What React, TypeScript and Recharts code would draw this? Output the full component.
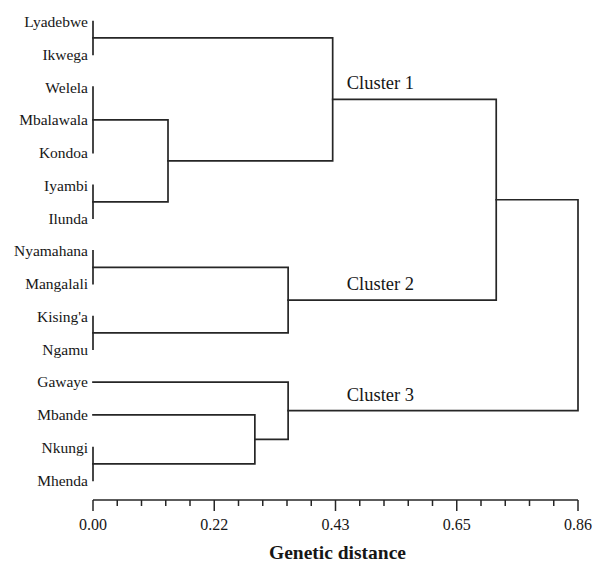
import React from 'react';
import { ComposedChart, Line, XAxis, YAxis, Scatter, Label } from 'recharts';

// ---- data ----
const leaves = [
  'Lyadebwe', 'Ikwega', 'Welela', 'Mbalawala', 'Kondoa', 'Iyambi', 'Ilunda',
  'Nyamahana', 'Mangalali', "Kising'a", 'Ngamu', 'Gawaye', 'Mbande', 'Nkungi', 'Mhenda',
];

const mergeIds = ['A', 'B', 'C', 'D', 'E', 'F', 'G', 'H', 'I', 'J', 'K', 'L', 'M'];
const mergeChildren = [
  ['Lyadebwe', 'Ikwega'],
  ['Welela', 'Mbalawala', 'Kondoa'],
  ['Iyambi', 'Ilunda'],
  ['B', 'C'],
  ['A', 'D'],
  ['Nyamahana', 'Mangalali'],
  ["Kising'a", 'Ngamu'],
  ['F', 'G'],
  ['E', 'H'],
  ['Nkungi', 'Mhenda'],
  ['Mbande', 'J'],
  ['Gawaye', 'K'],
  ['I', 'L'],
];
const mergeHeights = [0, 0, 0, 0.133, 0.425, 0, 0, 0.346, 0.715, 0, 0.287, 0.346, 0.86];

const clusterNames = ['Cluster 1', 'Cluster 2', 'Cluster 3'];
const clusterNodes = ['E', 'H', 'L'];
const clusterLabelX = 0.45;

const axisMinorTicks = [
  0, 0.043, 0.086, 0.129, 0.172, 0.215, 0.258, 0.301, 0.344, 0.387, 0.43,
  0.473, 0.516, 0.559, 0.602, 0.645, 0.688, 0.731, 0.774, 0.817, 0.86,
];
const axisMajorTicks = [0, 0.215, 0.43, 0.645, 0.86];
const axisMajorLabels = ['0.00', '0.22', '0.43', '0.65', '0.86'];
const axisTitle = 'Genetic distance';

// ---- tree layout from data ----
type P = { x: number; y: number };
const pos: Record<string, P> = {};
leaves.forEach((l, i) => {
  pos[l] = { x: 0, y: i };
});
const polylines: P[][] = [];
mergeIds.forEach((id, k) => {
  const H = mergeHeights[k];
  const ch = mergeChildren[k].map((c) => pos[c]);
  const ys = ch.map((c) => c.y);
  const minY = Math.min(...ys);
  const maxY = Math.max(...ys);
  pos[id] = { x: H, y: (minY + maxY) / 2 };
  const first = ch[0];
  const last = ch[ch.length - 1];
  polylines.push([
    { x: first.x, y: first.y },
    { x: H, y: first.y },
    { x: H, y: last.y },
    { x: last.x, y: last.y },
  ]);
  ch.slice(1, -1).forEach((c) => {
    if (c.x < H) polylines.push([{ x: c.x, y: c.y }, { x: H, y: c.y }]);
  });
});

const clusterData = clusterNames.map((name, i) => ({
  name,
  x: clusterLabelX,
  y: pos[clusterNodes[i]].y,
}));

const INK = '#262626';
const TEXT = '#161616';
const FONT = 'Liberation Serif';

const LeafTick = (props: any) => {
  const { x, y, payload } = props;
  return (
    <text x={x - 5} y={y} dy="0.35em" textAnchor="end" fontFamily={FONT} fontSize={15.5} fill={TEXT}>
      {leaves[payload.value]}
    </text>
  );
};

const DistTick = (props: any) => {
  const { x, y, payload } = props;
  const idx = axisMajorTicks.findIndex((m) => Math.abs(m - payload.value) < 1e-6);
  const major = idx >= 0;
  return (
    <g>
      <line x1={x} x2={x} y1={y} y2={y + (major ? 11 : 6)} stroke={INK} strokeWidth={1.5} />
      {major && (
        <text x={x} y={y + 30} textAnchor="middle" fontFamily={FONT} fontSize={16} fill={TEXT}>
          {axisMajorLabels[idx]}
        </text>
      )}
    </g>
  );
};

const ClusterLabel = (props: any) => {
  const { cx, cy, payload } = props;
  return (
    <text x={cx} y={cy - 10} textAnchor="start" fontFamily={FONT} fontSize={18.5} fill={TEXT}>
      {payload.name}
    </text>
  );
};

const AxisTitle = (props: any) => {
  const vb = props.viewBox || {};
  return (
    <text
      x={vb.x + vb.width / 2 + 2}
      y={vb.y + vb.height - 3}
      textAnchor="middle"
      fontFamily={FONT}
      fontWeight={700}
      fontSize={19.5}
      fill={TEXT}
    >
      {axisTitle}
    </text>
  );
};

export default function App() {
  return (
    <div style={{ position: 'absolute', top: 0, left: 0, width: 599, height: 562, background: '#fff' }}>
      <ComposedChart width={599} height={562} margin={{ top: 15, right: 21, bottom: 0, left: 0 }}>
        <XAxis
          type="number"
          dataKey="x"
          domain={[0, 0.86]}
          ticks={axisMinorTicks}
          interval={0}
          tick={<DistTick />}
          tickLine={false}
          tickSize={0}
          tickMargin={0}
          axisLine={{ stroke: INK, strokeWidth: 1.5 }}
          height={62}
        >
          <Label content={<AxisTitle />} />
        </XAxis>
        <YAxis
          type="number"
          dataKey="y"
          domain={[-0.2, 14.6]}
          reversed
          ticks={leaves.map((_, i) => i)}
          interval={0}
          tick={<LeafTick />}
          tickLine={false}
          axisLine={false}
          tickSize={0}
          tickMargin={0}
          width={93}
        />
        {polylines.map((pts, i) => (
          <Line
            key={i}
            data={pts}
            dataKey="y"
            type="linear"
            stroke={INK}
            strokeWidth={1.7}
            strokeLinecap="square"
            dot={false}
            activeDot={false}
            isAnimationActive={false}
            legendType="none"
          />
        ))}
        <Scatter data={clusterData} dataKey="y" shape={<ClusterLabel />} isAnimationActive={false} />
      </ComposedChart>
    </div>
  );
}
